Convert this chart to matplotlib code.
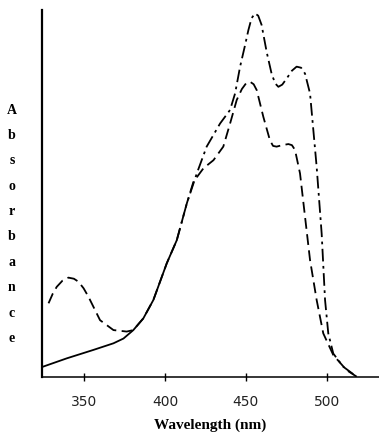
import matplotlib.pyplot as plt

# wavelength (nm) / absorbance (arbitrary units)
wl_tall = [324.2, 339.1, 355.6, 368.0, 374.2, 380.3, 386.5, 392.7, 401.0, 407.2,
           413.4, 419.6, 425.7, 434.0, 440.2, 443.3, 446.4, 449.5, 451.5, 453.5,
           455.6, 457.6, 459.7, 462.9, 466.0, 468.2, 470.1, 472.5, 475.3, 478.5,
           481.4, 484.2, 486.6, 489.7, 493.8, 496.9, 499.0, 501.0, 504.1, 510.3,
           518.6]
abs_tall = [0.028, 0.051, 0.074, 0.092, 0.105, 0.128, 0.160, 0.210, 0.310, 0.373,
            0.473, 0.555, 0.628, 0.691, 0.728, 0.773, 0.846, 0.905, 0.945, 0.978,
            0.991, 0.985, 0.960, 0.885, 0.825, 0.800, 0.791, 0.797, 0.814, 0.835,
            0.846, 0.843, 0.827, 0.773, 0.573, 0.391, 0.210, 0.119, 0.064, 0.028,
            0.001]

wl_low = [327.8, 330.5, 332.9, 336.5, 340.1, 343.5, 346.3, 349.5, 352.5, 359.7,
          368.0, 376.2, 380.3, 386.5, 392.7, 401.0, 407.2, 413.4, 417.5, 423.7,
          429.9, 436.0, 440.2, 444.3, 447.5, 450.0, 452.5, 454.8, 456.7, 460.8,
          464.9, 466.8, 469.0, 472.5, 476.3, 478.5, 480.4, 483.5, 486.6, 489.7,
          493.8, 497.9, 504.1, 512.3, 518.6]
abs_low = [0.201, 0.228, 0.246, 0.263, 0.271, 0.268, 0.260, 0.242, 0.219, 0.155,
           0.128, 0.124, 0.128, 0.160, 0.210, 0.310, 0.373, 0.473, 0.532, 0.569,
           0.591, 0.628, 0.691, 0.755, 0.785, 0.800, 0.805, 0.798, 0.782, 0.709,
           0.645, 0.630, 0.628, 0.632, 0.635, 0.632, 0.619, 0.555, 0.437, 0.319,
           0.210, 0.119, 0.060, 0.019, 0.001]

xticks = [350, 400, 450, 500]

fig = plt.figure(figsize=(3.79, 4.41), dpi=100)
ax = fig.add_axes([0.111, 0.145, 0.889, 0.832])

# the tall spectrum is drawn solid at the start, dash-dot after it leaves the baseline
split = 9
ax.plot(wl_tall[:split + 1], abs_tall[:split + 1], color="black", lw=1.3, ls="-",
        solid_joinstyle="round")
ax.plot(wl_tall[split:], abs_tall[split:], color="black", lw=1.3,
        ls=(0, (7, 2.5, 1.5, 2.5)), dash_joinstyle="round")
ax.plot(wl_low, abs_low, color="black", lw=1.3, ls=(0, (6, 3)),
        dash_joinstyle="round")

ax.set_xlim(323.8, 532.4)
ax.set_ylim(0, 1.0)
ax.set_xticks(xticks)
ax.set_xticklabels([str(t) for t in xticks], fontsize=10, family="DejaVu Sans",
                   color="#222222")
ax.tick_params(axis="x", direction="inout", length=6, width=1, pad=10)
ax.set_yticks([])

for side in ["top", "right"]:
    ax.spines[side].set_visible(False)
ax.spines["left"].set_linewidth(1.6)
ax.spines["bottom"].set_linewidth(1.1)

ax.set_xlabel("Wavelength (nm)", fontsize=11, fontweight="bold",
              family="Liberation Serif", labelpad=7)

# vertical stacked letters for the y label
letters = "Absorbance"
y0 = (441 - 110) / 441
step = 25.4 / 441
for i, ch in enumerate(letters):
    fig.text(12 / 379, y0 - i * step, ch, fontsize=10, fontweight="bold",
             family="Liberation Serif", ha="center", va="center")

fig.savefig("out.png", dpi=100, facecolor="white")
